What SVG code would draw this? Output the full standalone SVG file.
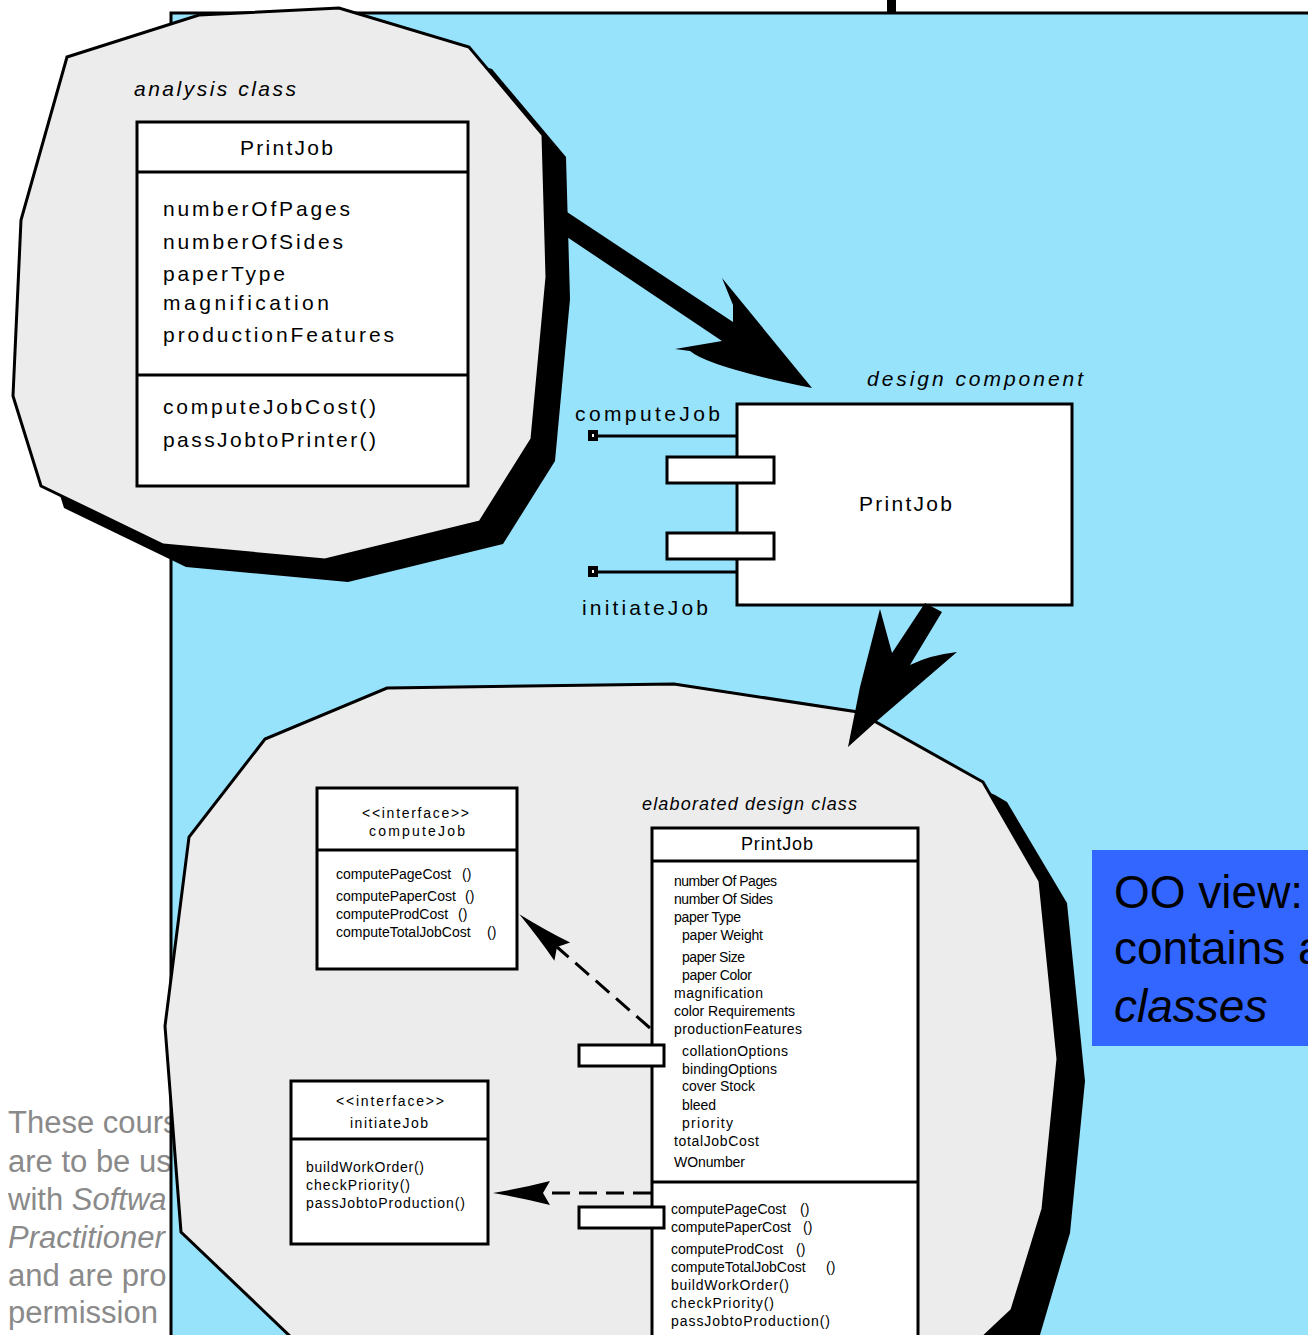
<svg xmlns="http://www.w3.org/2000/svg" width="1308" height="1335" viewBox="0 0 1308 1335">
<style>
  text{font-family:"Liberation Sans",Arial,Helvetica,sans-serif;fill:#000}
  .it{font-style:italic}
  .big{font-size:21px}
  .mid{font-size:18px}
  .sm{font-size:14px}
  .tiny{font-size:14px}
  .notice{font-size:31px;fill:#8a8a8a}
  .callout{font-size:46px}
  .blob{fill:#ececec;stroke:#000;stroke-width:3;stroke-linejoin:miter}
  .shadow{fill:#000}
  .box{fill:#fff;stroke:#000;stroke-width:3}
  .rule{stroke:#000;stroke-width:3}
  .wire{stroke:#000;stroke-width:3;fill:none}
  .port-end{fill:#fff;stroke:#000;stroke-width:4}
  .dash{stroke:#000;stroke-width:3;fill:none;stroke-dasharray:18 9;marker-end:url(#head)}
  .solid{fill:#000}
</style>
<defs>
  <!-- barbed open-back arrowhead; the line ends at the notch -->
  <marker id="head" viewBox="-60 -15 62 30" refX="-50" refY="0" markerWidth="62" markerHeight="30" markerUnits="userSpaceOnUse" orient="auto">
    <path d="M0,0 Q-30,-5 -57,-12 L-50,0 L-57,12 Q-30,5 0,0 Z" fill="#000"/>
  </marker>
</defs>

<rect x="0" y="0" width="1308" height="1335" fill="#fff"/>

<!-- copyright notice on the page, partly hidden by the panel -->
<g id="notice" class="notice">
  <text x="8" y="1133" class="notice">These cours</text>
  <text x="8" y="1172" class="notice">are to be us</text>
  <text x="8" y="1210" class="notice">with <tspan class="it">Softwa</tspan></text>
  <text x="8" y="1248" class="notice it">Practitioner</text>
  <text x="8" y="1286" class="notice">and are pro</text>
  <text x="8" y="1323" class="notice">permission</text>
</g>

<!-- light blue slide panel -->
<g id="panel">
  <rect x="171" y="13" width="1150" height="1340" fill="#98e3fc" stroke="#000" stroke-width="3"/>
  <rect x="887" y="0" width="9" height="13" fill="#000"/>
</g>

<!-- analysis class -->
<g id="analysis-class">
  <polygon class="shadow" transform="translate(23,22)" points="67,57 199,15 339,8 469,47 543,135 547,277 532,439 480,522 325,560 163,545 41,486 13,396 21,220"/>
  <polygon class="blob" points="67,57 199,15 339,8 469,47 543,135 547,277 532,439 480,522 325,560 163,545 41,486 13,396 21,220"/>
  <text x="134" y="96" class="big it" textLength="162">analysis class</text>
  <rect class="box" x="137" y="122" width="331" height="364"/>
  <line class="rule" x1="137" y1="172" x2="468" y2="172"/>
  <line class="rule" x1="137" y1="375" x2="468" y2="375"/>
  <text x="240" y="155" class="big" textLength="93">PrintJob</text>
  <text x="163" y="216" class="big" textLength="187">numberOfPages</text>
  <text x="163" y="249" class="big" textLength="180">numberOfSides</text>
  <text x="163" y="281" class="big" textLength="122">paperType</text>
  <text x="163" y="310" class="big" textLength="166">magnification</text>
  <text x="163" y="342" class="big" textLength="231">productionFeatures</text>
  <text x="163" y="414" class="big" textLength="213">computeJobCost()</text>
  <text x="163" y="447" class="big" textLength="213">passJobtoPrinter()</text>
</g>

<!-- design component -->
<g id="design-component">
  <text x="867" y="386" class="big it" textLength="216">design component</text>
  <text x="575" y="421" class="big" textLength="145">computeJob</text>
  <text x="582" y="615" class="big" textLength="126">initiateJob</text>
  <line class="wire" x1="598" y1="436" x2="737" y2="436"/>
  <line class="wire" x1="598" y1="572" x2="737" y2="572"/>
  <rect class="port-end" x="590" y="432" width="6" height="7"/>
  <rect class="port-end" x="590" y="568" width="6" height="7"/>
  <rect class="box" x="737" y="404" width="335" height="201"/>
  <rect class="box" x="667" y="457" width="107" height="26"/>
  <rect class="box" x="667" y="533" width="107" height="26"/>
  <text x="859" y="511" class="big" textLength="93">PrintJob</text>
</g>

<!-- elaborated design class region -->
<g id="elaborated-region">
  <polygon class="shadow" points="950,775 995,795 1007,802 1067,903 1085,1081 1070,1233 1037,1345 900,1345 900,775"/>
  <polygon class="blob" points="387,688 674,684 858,712 983,782 1040,881 1058,1059 1043,1209 1012,1310 975,1345 300,1345 294,1340 181,1232 165,1026 189,837 265,739"/>
  <text x="642" y="810" class="mid it" textLength="215">elaborated design class</text>
</g>

<g id="interface-computeJob">
  <rect class="box" x="317" y="788" width="200" height="181"/>
  <line class="rule" x1="317" y1="850" x2="517" y2="850"/>
  <text x="362" y="818" class="tiny" textLength="107">&lt;&lt;interface&gt;&gt;</text>
  <text x="369" y="836" class="tiny" textLength="96">computeJob</text>
  <text y="879" class="sm"><tspan x="336">computePageCost</tspan><tspan x="462">()</tspan></text>
  <text y="901" class="sm"><tspan x="336">computePaperCost</tspan><tspan x="465">()</tspan></text>
  <text y="919" class="sm"><tspan x="336">computeProdCost</tspan><tspan x="458">()</tspan></text>
  <text y="937" class="sm"><tspan x="336">computeTotalJobCost</tspan><tspan x="487">()</tspan></text>
</g>

<g id="interface-initiateJob">
  <rect class="box" x="291" y="1081" width="197" height="163"/>
  <line class="rule" x1="291" y1="1139" x2="488" y2="1139"/>
  <text x="336" y="1106" class="tiny" textLength="108">&lt;&lt;interface&gt;&gt;</text>
  <text x="350" y="1128" class="tiny" textLength="78">initiateJob</text>
  <text x="306" y="1172" class="sm" textLength="118">buildWorkOrder()</text>
  <text x="306" y="1190" class="sm" textLength="104">checkPriority()</text>
  <text x="306" y="1208" class="sm" textLength="159">passJobtoProduction()</text>
</g>

<g id="elaborated-PrintJob">
  <rect class="box" x="652" y="828" width="266" height="530"/>
  <line class="rule" x1="652" y1="861" x2="918" y2="861"/>
  <line class="rule" x1="652" y1="1182" x2="918" y2="1182"/>
  <rect class="box" x="579" y="1045" width="85" height="21"/>
  <rect class="box" x="579" y="1207" width="85" height="21"/>
  <text x="741" y="850" class="mid" textLength="72">PrintJob</text>
  <text x="674" y="886" class="sm" textLength="103">number Of Pages</text>
  <text x="674" y="904" class="sm" textLength="99">number Of Sides</text>
  <text x="674" y="922" class="sm" textLength="67">paper Type</text>
  <text x="682" y="940" class="sm" textLength="81">paper Weight</text>
  <text x="682" y="962" class="sm" textLength="63">paper Size</text>
  <text x="682" y="980" class="sm" textLength="70">paper Color</text>
  <text x="674" y="998" class="sm" textLength="89">magnification</text>
  <text x="674" y="1016" class="sm" textLength="121">color Requirements</text>
  <text x="674" y="1034" class="sm" textLength="128">productionFeatures</text>
  <text x="682" y="1056" class="sm" textLength="106">collationOptions</text>
  <text x="682" y="1074" class="sm" textLength="95">bindingOptions</text>
  <text x="682" y="1091" class="sm" textLength="73">cover Stock</text>
  <text x="682" y="1110" class="sm" textLength="34">bleed</text>
  <text x="682" y="1128" class="sm" textLength="51">priority</text>
  <text x="674" y="1146" class="sm" textLength="85">totalJobCost</text>
  <text x="674" y="1167" class="sm" textLength="71">WOnumber</text>
  <text y="1214" class="sm"><tspan x="671">computePageCost</tspan><tspan x="800">()</tspan></text>
  <text y="1232" class="sm"><tspan x="671">computePaperCost</tspan><tspan x="803">()</tspan></text>
  <text y="1254" class="sm"><tspan x="671">computeProdCost</tspan><tspan x="796">()</tspan></text>
  <text y="1272" class="sm"><tspan x="671">computeTotalJobCost</tspan><tspan x="826">()</tspan></text>
  <text x="671" y="1290" class="sm" textLength="118">buildWorkOrder()</text>
  <text x="671" y="1308" class="sm" textLength="103">checkPriority()</text>
  <text x="671" y="1326" class="sm" textLength="159">passJobtoProduction()</text>
</g>

<!-- refinement arrows and realisation links -->
<g id="connectors">
  <path class="solid" d="M567,212 L733,322 L733,305 L722,278 L812,388 Q709,367 690,351 L675,349 L722,341 L567,237 Z"/>
  <path class="solid" d="M925,603 L942,612 L910,665 Q930,655 957,652 L878,720 L848,747 L860,687 L880,609 L892,653 Z"/>
  <path class="dash" d="M650,1028 L557,947"/>
  <path class="dash" d="M651,1193 L543,1193"/>
</g>

<!-- callout -->
<g id="callout">
  <rect x="1092" y="850" width="220" height="196" fill="#3366ff"/>
  <text x="1114" y="908" class="callout">OO view:</text>
  <text x="1114" y="964" class="callout">contains a</text>
  <text x="1114" y="1022" class="callout it">classes</text>
</g>
</svg>
